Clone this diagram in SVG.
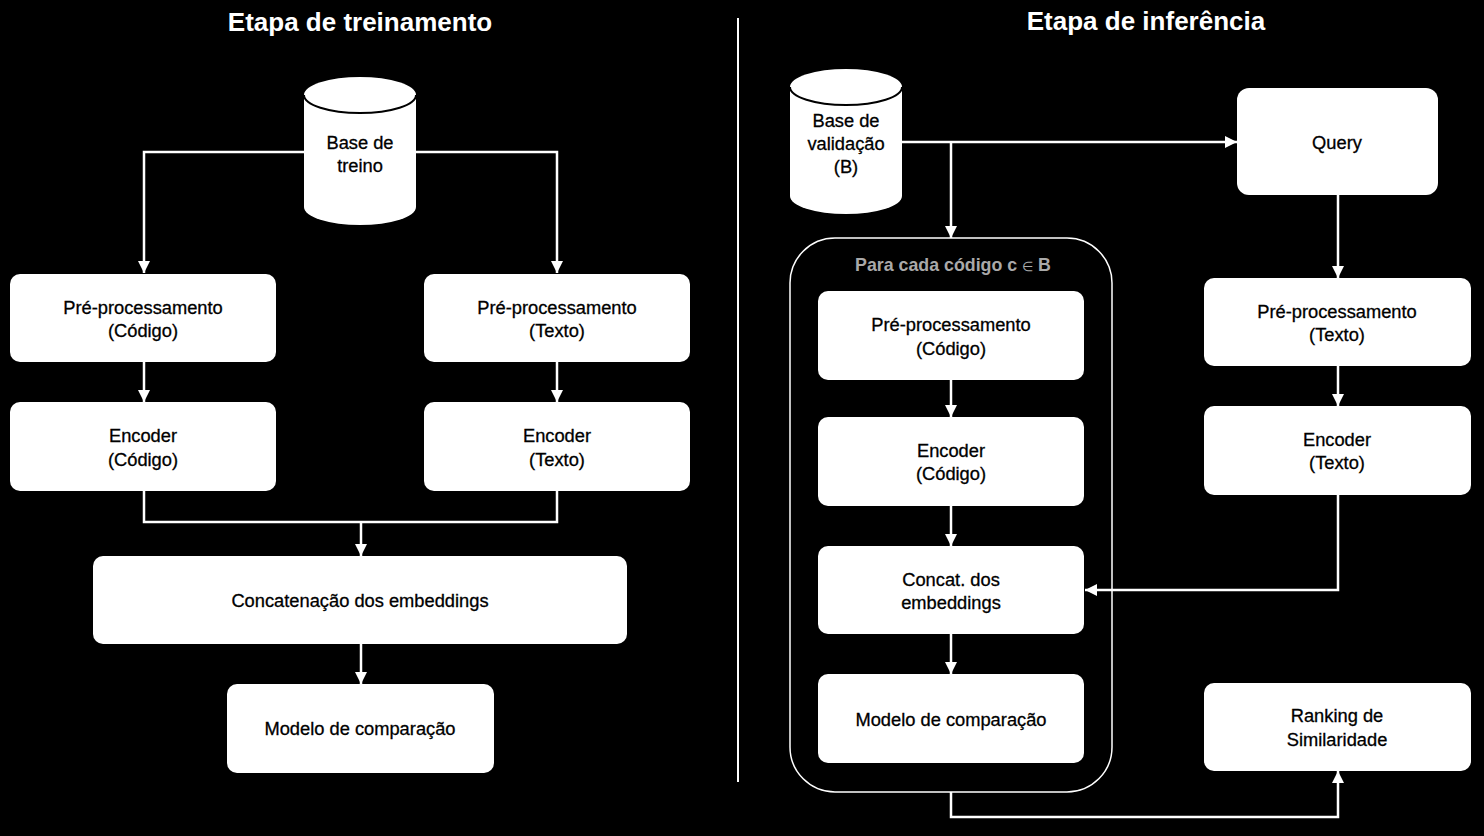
<svg xmlns="http://www.w3.org/2000/svg" width="1484" height="836" viewBox="0 0 1484 836">
<style>
.bx{fill:#fff;}
.t{font-family:"Liberation Sans",Arial,sans-serif;font-size:18.3px;fill:#000;stroke:#000;stroke-width:0.3;text-anchor:middle;}
.h{font-family:"Liberation Sans",Arial,sans-serif;font-size:26px;font-weight:bold;fill:#fff;text-anchor:middle;}
.c{fill:none;stroke:#fff;stroke-width:2.5;}
</style>
<defs>
<marker id="ar" markerWidth="12" markerHeight="12" viewBox="0 0 12 12" refX="12" refY="6" orient="auto" markerUnits="userSpaceOnUse">
<path d="M0,0 L12,6 L0,12 Z" fill="#fff"/>
</marker>
</defs>
<rect width="1484" height="836" fill="#000"/>
<text class="h" x="360" y="31">Etapa de treinamento</text>
<text class="h" x="1146" y="30">Etapa de inferência</text>
<line x1="738" y1="18" x2="738" y2="782" stroke="#fff" stroke-width="2"/>

<g id="connectors">
<path class="c" d="M304,152 H144 V273" marker-end="url(#ar)"/>
<path class="c" d="M416,152 H557 V273" marker-end="url(#ar)"/>
<path class="c" d="M144,362 V402" marker-end="url(#ar)"/>
<path class="c" d="M557,362 V402" marker-end="url(#ar)"/>
<path class="c" d="M144,491 V522 H557 V491"/>
<path class="c" d="M361,522 V556" marker-end="url(#ar)"/>
<path class="c" d="M361,644 V684" marker-end="url(#ar)"/>
<path class="c" d="M902,142 H1237" marker-end="url(#ar)"/>
<path class="c" d="M951,142 V238" marker-end="url(#ar)"/>
<path class="c" d="M951,380 V417" marker-end="url(#ar)"/>
<path class="c" d="M951,506 V546" marker-end="url(#ar)"/>
<path class="c" d="M951,634 V674" marker-end="url(#ar)"/>
<path class="c" d="M1338,195 V278" marker-end="url(#ar)"/>
<path class="c" d="M1338,366 V406" marker-end="url(#ar)"/>
<path class="c" d="M1338,495 V590 H1085" marker-end="url(#ar)"/>
<path class="c" d="M951,792 V817 H1338 V771" marker-end="url(#ar)"/>
</g>

<g id="base-treino">
<path class="bx" d="M304,95 V207 A56,18 0 0 0 416,207 V95 A56,18 0 0 0 304,95 Z"/>
<path d="M304,95 A56,18 0 0 0 416,95" fill="none" stroke="#000" stroke-width="2"/>
<text class="t" x="360" y="149">Base de</text>
<text class="t" x="360" y="172">treino</text>
</g>
<g id="pre-codigo-l">
<rect class="bx" x="10" y="274" width="266" height="88" rx="10"/>
<text class="t" x="143" y="314">Pré-processamento</text>
<text class="t" x="143" y="337">(Código)</text>
</g>
<g id="pre-texto-l">
<rect class="bx" x="424" y="274" width="266" height="88" rx="10"/>
<text class="t" x="557" y="314">Pré-processamento</text>
<text class="t" x="557" y="337">(Texto)</text>
</g>
<g id="enc-codigo-l">
<rect class="bx" x="10" y="402" width="266" height="89" rx="10"/>
<text class="t" x="143" y="442">Encoder</text>
<text class="t" x="143" y="466">(Código)</text>
</g>
<g id="enc-texto-l">
<rect class="bx" x="424" y="402" width="266" height="89" rx="10"/>
<text class="t" x="557" y="442">Encoder</text>
<text class="t" x="557" y="466">(Texto)</text>
</g>
<g id="concat-l">
<rect class="bx" x="93" y="556" width="534" height="88" rx="10"/>
<text class="t" x="360" y="607">Concatenação dos embeddings</text>
</g>
<g id="modelo-l">
<rect class="bx" x="227" y="684" width="267" height="89" rx="10"/>
<text class="t" x="360" y="735">Modelo de comparação</text>
</g>

<g id="base-validacao">
<path class="bx" d="M790,87 V196 A56,18 0 0 0 902,196 V87 A56,18 0 0 0 790,87 Z"/>
<path d="M790,87 A56,18 0 0 0 902,87" fill="none" stroke="#000" stroke-width="2"/>
<text class="t" x="846" y="127">Base de</text>
<text class="t" x="846" y="150">validação</text>
<text class="t" x="846" y="173">(B)</text>
</g>
<g id="query">
<rect class="bx" x="1237" y="88" width="201" height="107" rx="12"/>
<text class="t" x="1337" y="149">Query</text>
</g>
<g id="container">
<rect x="790" y="238" width="322" height="554" rx="45" fill="none" stroke="#fff" stroke-width="1.5"/>
<text x="953" y="271" style="font-family:'Liberation Sans',Arial,sans-serif;font-size:17.8px;font-weight:bold;fill:#a9a9a9;text-anchor:middle">Para cada código c <tspan style="font-size:13px;font-weight:normal">∈</tspan> B</text>
</g>
<g id="pre-codigo-r">
<rect class="bx" x="818" y="291" width="266" height="89" rx="10"/>
<text class="t" x="951" y="331">Pré-processamento</text>
<text class="t" x="951" y="355">(Código)</text>
</g>
<g id="enc-codigo-r">
<rect class="bx" x="818" y="417" width="266" height="89" rx="10"/>
<text class="t" x="951" y="457">Encoder</text>
<text class="t" x="951" y="480">(Código)</text>
</g>
<g id="concat-r">
<rect class="bx" x="818" y="546" width="266" height="88" rx="10"/>
<text class="t" x="951" y="586">Concat. dos</text>
<text class="t" x="951" y="609">embeddings</text>
</g>
<g id="modelo-r">
<rect class="bx" x="818" y="674" width="266" height="89" rx="10"/>
<text class="t" x="951" y="726">Modelo de comparação</text>
</g>
<g id="pre-texto-r">
<rect class="bx" x="1204" y="278" width="267" height="88" rx="10"/>
<text class="t" x="1337" y="318">Pré-processamento</text>
<text class="t" x="1337" y="341">(Texto)</text>
</g>
<g id="enc-texto-r">
<rect class="bx" x="1204" y="406" width="267" height="89" rx="10"/>
<text class="t" x="1337" y="446">Encoder</text>
<text class="t" x="1337" y="469">(Texto)</text>
</g>
<g id="ranking">
<rect class="bx" x="1204" y="683" width="267" height="88" rx="10"/>
<text class="t" x="1337" y="722">Ranking de</text>
<text class="t" x="1337" y="746">Similaridade</text>
</g>
</svg>
